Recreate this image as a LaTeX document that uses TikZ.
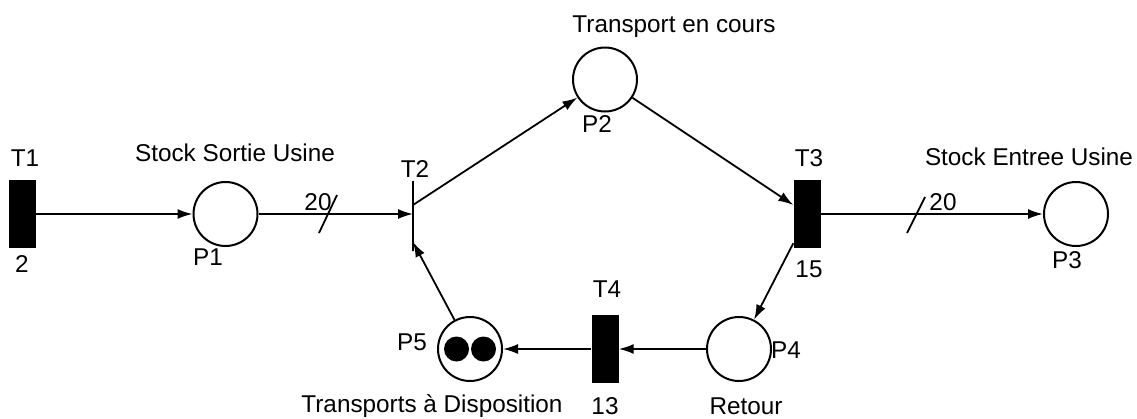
\documentclass[tikz,border=0pt]{standalone}
\usepackage{fontspec}
\setmainfont{Liberation Sans}
\usetikzlibrary{arrows.meta}
\tikzset{>={Latex[length=15pt,width=10pt]}}
\tikzset{
  place/.style={circle,draw,line width=2pt,minimum size=64pt,inner sep=0pt},
  trans/.style={rectangle,fill=black,minimum width=27pt,minimum height=68pt,inner sep=0pt},
  trbar/.style={rectangle,draw,line width=1.8pt,minimum width=0pt,minimum height=70pt,inner sep=0pt},
  jeton/.style={circle,fill=black,minimum size=25pt,inner sep=0pt},
  arc/.style={->,line width=1.8pt},
  lbl/.style={inner sep=0pt,anchor=base,font=\fontsize{24.3}{29}\selectfont},
}

\begin{document}
\begin{tikzpicture}[x=1pt,y=-1pt]
    \useasboundingbox (0,0) rectangle (1137,418);
    % places et transitions
    \node[trans] (T1) at (22.5,214) {};
    \node[place] (P1) at (225.5,214) {};
    \node[trbar] (T2) at (413,216) {};
    \node[place] (P2) at (605,79.5) {};
    \node[trans] (T3) at (807,214) {};
    \node[place] (P3) at (1076,214) {};
    \node[place] (P4) at (739,349) {};
    \node[trans] (T4) at (605,349) {};
    \node[place] (P5) at (470,349) {};
    \node[jeton] (J1) at (456.5,349) {};
    \node[jeton] (J2) at (483.5,349) {};
    % arcs
    \coordinate (T2out) at ([yshift=11pt]T2.center);
    \coordinate (T2in) at ([yshift=-26pt]T2.center);
    \coordinate (T3in) at ([yshift=9pt]T3.west);
    \coordinate (T3out) at ([yshift=5pt]T3.south west);
    \draw[arc] (T1.east) -- (P1.west);
    \draw[arc] (P1) -- (P1 -| T2);
    \draw[arc] (T2out) -- (P2);
    \draw[arc] (P2) -- (T3in);
    \draw[arc] (T3.east) -- (P3.west);
    \draw[arc] (T3out) -- (P4);
    \draw[arc] (P4.west) -- (T4.east);
    \draw[arc] (T4.west) -- (P5.east);
    \draw[arc] (P5) -- (T2in);
    % poids 20
    \draw[line width=1.8pt] (328,214) ++(-9,19) -- ++(18,-38);
    \draw[line width=1.8pt] (916,214) ++(-9,19) -- ++(18,-36);
    % textes
    \node[lbl] (lT1) at (25,166) {T1};
    \node[lbl] (dT1) at (22,272) {2};
    \node[lbl] (nP1) at (235,161) {Stock Sortie Usine};
    \node[lbl] (lP1) at (208,265) {P1};
    \node[lbl] (lT2) at (415,177) {T2};
    \node[lbl] (w12) at (318,210) {20};
    \node[lbl] (nP2) at (674,32) {Transport en cours};
    \node[lbl] (lP2) at (597,132) {P2};
    \node[lbl] (lT3) at (809,166) {T3};
    \node[lbl] (dT3) at (809,277) {15};
    \node[lbl] (nP3) at (1029,165) {Stock Entree Usine};
    \node[lbl] (w33) at (943,210) {20};
    \node[lbl] (lP3) at (1067,268) {P3};
    \node[lbl] (lT4) at (607,297) {T4};
    \node[lbl] (dT4) at (605,414) {13};
    \node[lbl] (lP4) at (786,358) {P4};
    \node[lbl] (nP4) at (746,414) {Retour};
    \node[lbl] (lP5) at (412,350) {P5};
    \node[lbl] (nP5) at (432,412) {Transports à Disposition};
\end{tikzpicture}
\end{document}
